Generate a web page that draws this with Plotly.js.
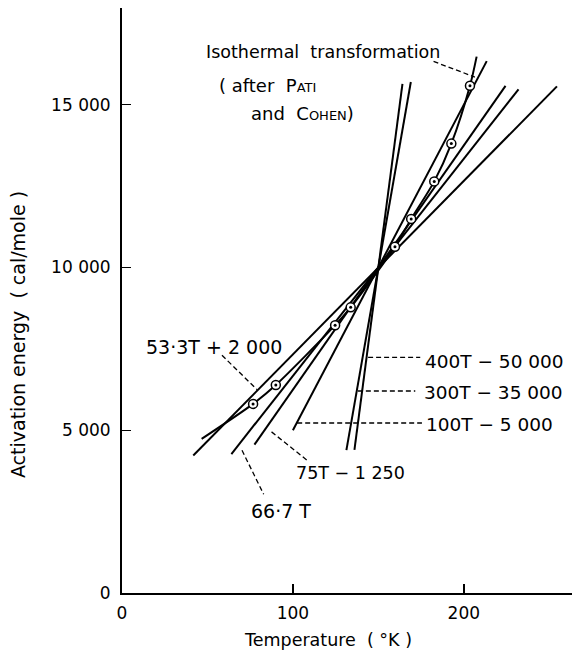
<!DOCTYPE html>
<html>
<head>
<meta charset="utf-8">
<script src="https://cdn.plot.ly/plotly-3.0.1.min.js"></script>
<style>html,body{margin:0;padding:0;background:#fff;}#chart{width:572px;height:657px;}</style>
</head>
<body>
<div id="chart"></div>
<script>
// ---- straight lines (equations labelled on the chart) ----
const lineLabels = ['53·3T + 2 000', '66·7 T', '75T − 1 250', '100T − 5 000', '300T − 35 000', '400T − 50 000'];
const lineT0 = [41.7, 64, 77.5, 100, 131.3, 136];
const lineT1 = [254.5, 232, 224.4, 213.4, 169, 164.1];
const lineE0 = [4223, 4270, 4560, 5000, 4390, 4400];
const lineE1 = [15565, 15475, 15580, 16340, 15700, 15640];

// ---- isothermal transformation (after Pati and Cohen) ----
const isoPointT = [76.7, 90, 124.7, 133.8, 159.7, 169.2, 182.7, 192.7, 203.6];
const isoPointE = [5810, 6390, 8228, 8775, 10636, 11493, 12645, 13806, 15585];
const isoCurveT = [46.6, 76.7, 90, 124.7, 133.8, 159.7, 169.2, 182.7, 192.7, 203.6, 207.5];
const isoCurveE = [4735, 5810, 6390, 8228, 8775, 10636, 11493, 12645, 13806, 15585, 16479];

// ---- axes ----
const xTickVals = [0, 100, 200];
const xTickText = ['0', '100', '200'];
const yTickVals = [0, 5000, 10000, 15000];
const yTickText = ['0', '5 000', '10 000', '15 000'];
const xTitle = 'Temperature  ( °K )';
const yTitle = 'Activation energy  ( cal/mole )';

const FONT = 'DejaVu Sans, Liberation Sans, sans-serif';
const traces = [];
for (let i = 0; i < lineLabels.length; i++) {
  traces.push({
    x: [lineT0[i], lineT1[i]], y: [lineE0[i], lineE1[i]],
    mode: 'lines', name: lineLabels[i],
    line: {color: '#000', width: 2}, hoverinfo: 'skip'
  });
}
traces.push({
  x: isoCurveT, y: isoCurveE, mode: 'lines', name: 'Isothermal transformation',
  line: {color: '#000', width: 2, shape: 'spline', smoothing: 0.8}, hoverinfo: 'skip'
});
traces.push({
  x: isoPointT, y: isoPointE, mode: 'markers', name: 'points',
  marker: {symbol: 'circle', size: 9, color: '#fff', line: {color: '#000', width: 1.5}},
  hoverinfo: 'skip'
});
traces.push({
  x: isoPointT, y: isoPointE, mode: 'markers', name: 'dots',
  marker: {symbol: 'circle', size: 3, color: '#000'}, hoverinfo: 'skip'
});

function dash(x0, y0, x1, y1) {
  return {type: 'line', xref: 'x', yref: 'y', x0: x0, y0: y0, x1: x1, y1: y1,
          line: {color: '#000', width: 1.3, dash: '5px,3px'}};
}
function lab(x, y, t, s) {
  return {xref: 'x', yref: 'y', x: x, y: y, text: t, showarrow: false,
          xanchor: 'left', yanchor: 'middle', font: {family: FONT, size: s || 18, color: '#000'}};
}
const sc = s => '<span style="font-size:13px">' + s + '</span>';

const layout = {
  width: 572, height: 657,
  margin: {l: 122, r: 0, t: 8, b: 64},
  paper_bgcolor: '#fff', plot_bgcolor: '#fff',
  showlegend: false,
  font: {family: FONT, size: 16, color: '#000'},
  xaxis: {
    range: [0, 263.3], showgrid: false, zeroline: false,
    showline: true, linecolor: '#000', linewidth: 2,
    ticks: 'inside', ticklen: 9, tickwidth: 1.5, tickcolor: '#000',
    tickvals: xTickVals, ticktext: xTickText,
    tickfont: {family: FONT, size: 17}, ticklabelstandoff: 4
  },
  yaxis: {
    range: [0, 17972], showgrid: false, zeroline: false,
    showline: true, linecolor: '#000', linewidth: 2,
    ticks: 'inside', ticklen: 9, tickwidth: 1.5, tickcolor: '#000',
    tickvals: yTickVals, ticktext: yTickText,
    tickfont: {family: FONT, size: 17}, ticklabelstandoff: 6
  },
  shapes: [
    dash(58.5, 7303, 79, 6249),
    dash(70.2, 4384, 82.9, 3032),
    dash(87.5, 4950, 108.3, 4076),
    dash(144, 7241, 174.5, 7241),
    dash(138, 6206, 171.6, 6206),
    dash(102.5, 5223, 175.5, 5223),
    dash(182.3, 16330, 206.5, 15850)
  ],
  annotations: [
    lab(47.8, 16620, 'Isothermal  transformation', 17.5),
    lab(55.6, 15598, '( after  P' + sc('ATI'), 18),
    lab(74.1, 14728, 'and  C' + sc('OHEN') + ')', 18),
    lab(12.6, 7558, lineLabels[0], 19),
    lab(74.1, 2510, lineLabels[1], 19),
    lab(100.4, 3699, lineLabels[2], 17.5),
    lab(176.5, 5183, lineLabels[3], 18.5),
    lab(175.5, 6157, lineLabels[4], 18.5),
    lab(176.1, 7097, lineLabels[5], 18.5),
    {xref: 'paper', yref: 'paper', x: 0.458, y: -0.080, text: xTitle, showarrow: false,
     xanchor: 'center', yanchor: 'middle', font: {family: FONT, size: 17.5, color: '#000'}},
    {xref: 'paper', yref: 'paper', x: -0.231, y: 0.441, text: yTitle, showarrow: false, textangle: -90,
     xanchor: 'center', yanchor: 'middle', font: {family: FONT, size: 19, color: '#000'}}
  ]
};

Plotly.newPlot('chart', traces, layout, {staticPlot: true, displayModeBar: false});
</script>
</body>
</html>
